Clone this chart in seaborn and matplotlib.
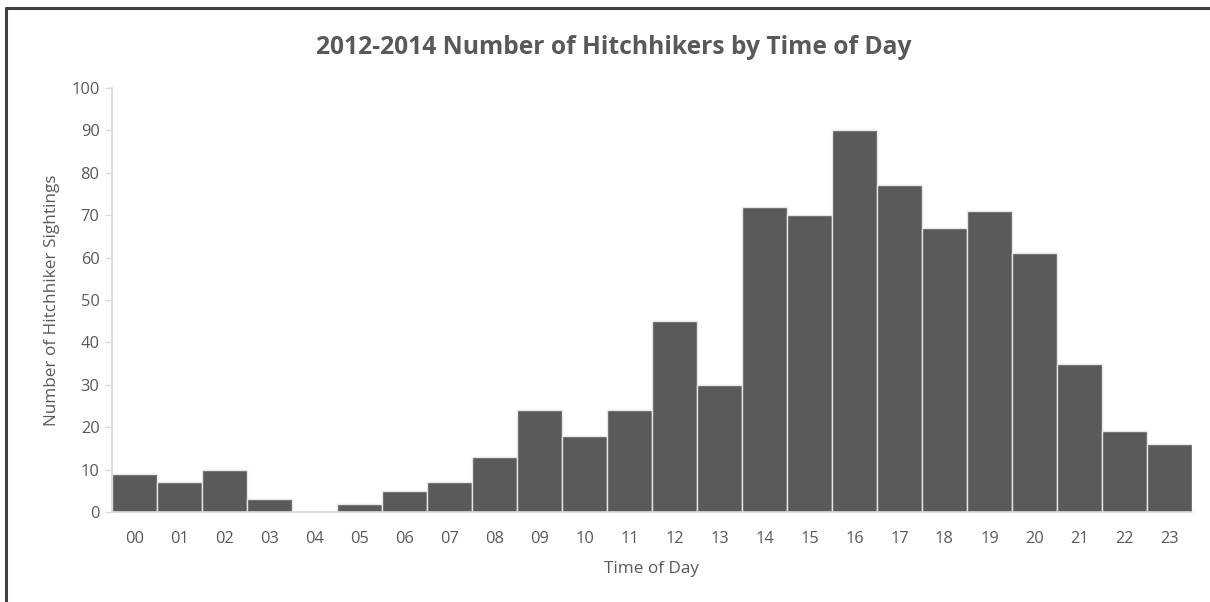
import matplotlib.pyplot as plt
import pandas as pd
import seaborn as sns
from matplotlib.lines import Line2D

hours = ["00", "01", "02", "03", "04", "05", "06", "07", "08", "09", "10", "11",
         "12", "13", "14", "15", "16", "17", "18", "19", "20", "21", "22", "23"]
sightings = [9, 7, 10, 3, 0, 2, 5, 7, 13, 24, 18, 24,
             45, 30, 72, 70, 90, 77, 67, 71, 61, 35, 19, 16]
y_ticks = [0, 10, 20, 30, 40, 50, 60, 70, 80, 90, 100]

TEXT = "#595959"

sns.set_theme(style="white")
plt.rcParams["font.family"] = ["Open Sans", "DejaVu Sans"]

frame = pd.DataFrame({"hour": hours, "count": sightings})

fig = plt.figure(figsize=(12.1, 6.02), dpi=100)
ax = fig.add_axes([0.0926, 0.1495, 0.8924, 0.7045])
sns.barplot(data=frame, x="hour", y="count", color="#5a5a5a", saturation=1,
            width=1.0, edgecolor="#e6e6e6", linewidth=1.0, ax=ax)

ax.set_xlim(-0.5, len(hours) - 0.5)
ax.set_ylim(0, 100)
ax.set_yticks(y_ticks)
ax.tick_params(axis="y", length=5, width=1, color="#d9d9d9", colors=TEXT,
               labelsize=11.8, left=True, pad=4)
ax.tick_params(axis="x", length=0, colors=TEXT, labelsize=11.8, pad=14)

for side in ["top", "right"]:
    ax.spines[side].set_visible(False)
for side in ["left", "bottom"]:
    ax.spines[side].set_color("#d9d9d9")
    ax.spines[side].set_linewidth(1.2)

ax.set_xlabel("Time of Day", color=TEXT, fontsize=12.3, labelpad=10)
ax.set_ylabel("Number of Hitchhiker Sightings", color=TEXT, fontsize=12.3, labelpad=8)
fig.text(0.507, 0.921, "2012-2014 Number of Hitchhikers by Time of Day",
         ha="center", va="center", fontsize=17.7, fontweight="bold", color=TEXT)

# chart frame, top and left edges only
fig.add_artist(Line2D([0.005, 1.0], [0.987, 0.987], transform=fig.transFigure,
                      color="#404040", linewidth=2.2))
fig.add_artist(Line2D([0.005, 0.005], [0.0, 0.987], transform=fig.transFigure,
                      color="#404040", linewidth=2.2))

fig.savefig("out.png", dpi=100, facecolor="white")
